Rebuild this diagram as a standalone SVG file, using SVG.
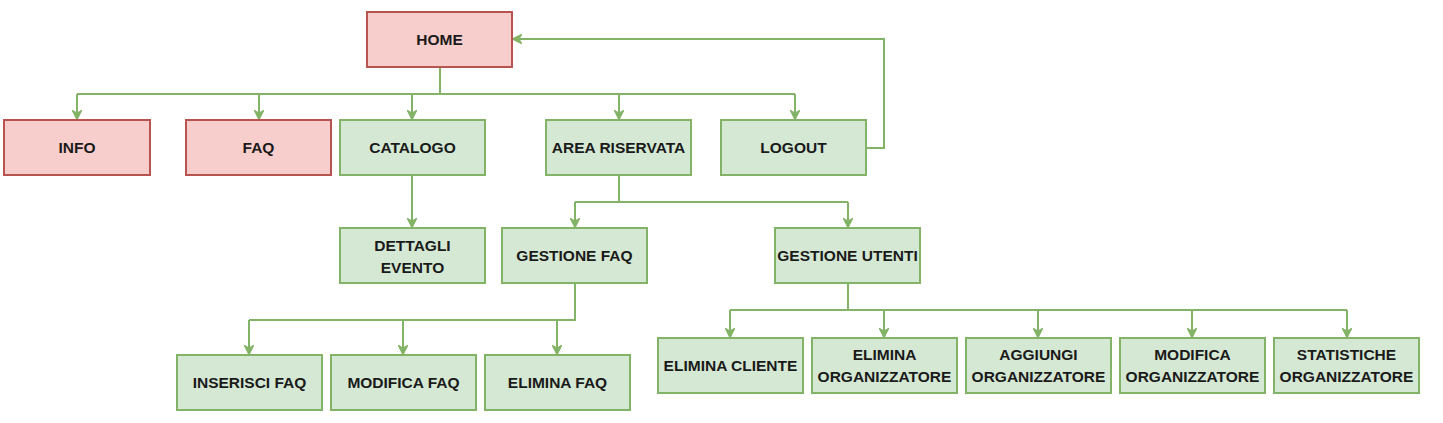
<svg xmlns="http://www.w3.org/2000/svg" width="1443" height="423" viewBox="0 0 1443 423">
<style>
.r{fill:#f8cecc;stroke:#b85450;stroke-width:2}
.g{fill:#d5e8d4;stroke:#82b366;stroke-width:2}
.t{font-family:"Liberation Sans",Arial,sans-serif;font-size:15.5px;font-weight:bold;fill:#1a1a1a;text-anchor:middle;dominant-baseline:central}
.c{fill:none;stroke:#82b366;stroke-width:2;marker-end:url(#a)}
.l{fill:none;stroke:#82b366;stroke-width:2}
</style>
<defs>
<marker id="a" viewBox="0 0 10 10" refX="9" refY="5" markerWidth="5" markerHeight="5" orient="auto" markerUnits="strokeWidth">
<path d="M0,0 L10,5 L0,10 L3,5 z" fill="#82b366" stroke="#82b366" stroke-width="1"/>
</marker>
</defs>
<rect width="1443" height="423" fill="#ffffff"/>
<g id="connectors">
<path class="l" d="M440,67 V94 M77,94 H795"/>
<path class="c" d="M77,94 V119"/>
<path class="c" d="M259,94 V119"/>
<path class="c" d="M412,94 V119"/>
<path class="c" d="M619,94 V119"/>
<path class="c" d="M795,94 V119"/>
<path class="c" d="M866,148 H884 V39 H513"/>
<path class="c" d="M412,175 V227"/>
<path class="l" d="M619,175 V202 M575,202 H848"/>
<path class="c" d="M575,202 V227"/>
<path class="c" d="M848,202 V227"/>
<path class="l" d="M575,283 V320 H249"/>
<path class="c" d="M249,320 V354"/>
<path class="c" d="M403,320 V354"/>
<path class="c" d="M557,320 V354"/>
<path class="l" d="M848,283 V310 M730,310 H1347"/>
<path class="c" d="M730,310 V337"/>
<path class="c" d="M884,310 V337"/>
<path class="c" d="M1038,310 V337"/>
<path class="c" d="M1192,310 V337"/>
<path class="c" d="M1347,310 V337"/>
</g>
<g id="home"><rect class="r" x="367" y="12" width="145" height="55"/><text class="t" x="439.5" y="39.5">HOME</text></g>
<g id="info"><rect class="r" x="4" y="120" width="146" height="55"/><text class="t" x="77" y="147.5">INFO</text></g>
<g id="faq"><rect class="r" x="186" y="120" width="145" height="55"/><text class="t" x="258.5" y="147.5">FAQ</text></g>
<g id="catalogo"><rect class="g" x="340" y="120" width="145" height="55"/><text class="t" x="412.5" y="147.5">CATALOGO</text></g>
<g id="area"><rect class="g" x="546" y="120" width="145" height="55"/><text class="t" x="618.5" y="147.5">AREA RISERVATA</text></g>
<g id="logout"><rect class="g" x="721" y="120" width="145" height="55"/><text class="t" x="793.5" y="147.5">LOGOUT</text></g>
<g id="dettagli"><rect class="g" x="340" y="228" width="145" height="55"/><text class="t" x="412.5" y="245">DETTAGLI</text><text class="t" x="412.5" y="267">EVENTO</text></g>
<g id="gfaq"><rect class="g" x="502" y="228" width="145" height="55"/><text class="t" x="574.5" y="255.5">GESTIONE FAQ</text></g>
<g id="gutenti"><rect class="g" x="775" y="228" width="145" height="55"/><text class="t" x="847.5" y="255.5">GESTIONE UTENTI</text></g>
<g id="ins"><rect class="g" x="177" y="355" width="145" height="55"/><text class="t" x="249.5" y="382.5">INSERISCI FAQ</text></g>
<g id="mod"><rect class="g" x="331" y="355" width="145" height="55"/><text class="t" x="403.5" y="382.5">MODIFICA FAQ</text></g>
<g id="elim"><rect class="g" x="485" y="355" width="145" height="55"/><text class="t" x="557.5" y="382.5">ELIMINA FAQ</text></g>
<g id="ecliente"><rect class="g" x="658" y="338" width="145" height="55"/><text class="t" x="730.5" y="365.5">ELIMINA CLIENTE</text></g>
<g id="eorg"><rect class="g" x="812" y="338" width="145" height="55"/><text class="t" x="884.5" y="354.5">ELIMINA</text><text class="t" x="884.5" y="376.5">ORGANIZZATORE</text></g>
<g id="aorg"><rect class="g" x="966" y="338" width="145" height="55"/><text class="t" x="1038.5" y="354.5">AGGIUNGI</text><text class="t" x="1038.5" y="376.5">ORGANIZZATORE</text></g>
<g id="morg"><rect class="g" x="1120" y="338" width="145" height="55"/><text class="t" x="1192.5" y="354.5">MODIFICA</text><text class="t" x="1192.5" y="376.5">ORGANIZZATORE</text></g>
<g id="sorg"><rect class="g" x="1274" y="338" width="145" height="55"/><text class="t" x="1346.5" y="354.5">STATISTICHE</text><text class="t" x="1346.5" y="376.5">ORGANIZZATORE</text></g>
</svg>
